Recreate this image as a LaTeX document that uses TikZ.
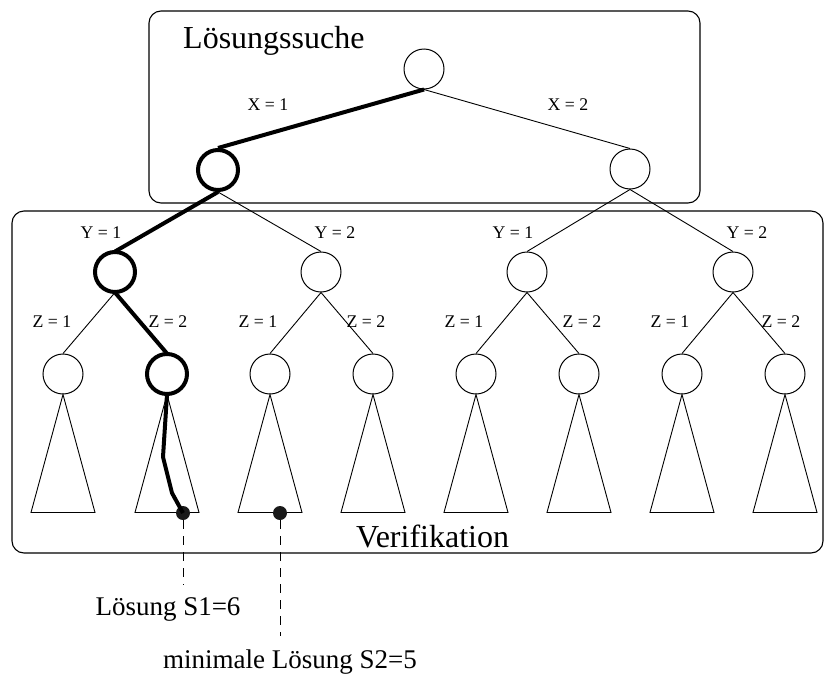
\documentclass[tikz,border=0pt]{standalone}
\usepackage{fontspec}
\setmainfont{Liberation Serif}
\begin{document}
\begin{tikzpicture}[x=1pt,y=-1pt,
  vnode/.style={circle,draw,minimum size=40pt,inner sep=0pt,line width=1pt,fill=white},
  hot/.style={line width=4pt},
  edge/.style={line width=0.9pt},
  region/.style={draw,line width=1.1pt,rounded corners=12pt},
  title/.style={font=\fontsize{32}{36}\selectfont,anchor=base west,inner sep=0pt},
  val/.style={font=\fontsize{17.8}{20}\selectfont,inner sep=0pt},
  note/.style={font=\fontsize{27}{31}\selectfont,anchor=base,inner sep=0pt},
  dot/.style={circle,fill=black!90,minimum size=14pt,inner sep=0pt},
  leader/.style={line width=0.9pt,dash pattern=on 9pt off 7pt}
]
\useasboundingbox (0,0) rectangle (825,675);

% the two phases
\draw[region] (149,11) rectangle (700,203);
\draw[region] (12,211) rectangle (823,553);
\node[title] at (183,48) {Lösungssuche};
\node[title] at (356,547) {Verifikation};

% search tree
\node[vnode] (r) at (424,69) {};
\node[vnode,hot] (a) at (218,170) {};
\node[vnode] (b) at (630,169) {};
\foreach \n/\x in {y1/115,y2/321,y3/527,y4/733}
  \node[vnode] (\n) at (\x,272) {};
\node[vnode,hot] at (y1) {};
\foreach \n/\x in {z1/63,z2/167,z3/270,z4/373,z5/476,z6/579,z7/682,z8/785}
  \node[vnode] (\n) at (\x,374) {};
\node[vnode,hot] at (z2) {};

\draw[hot] (r.south) -- (a.north);
\draw[edge] (r.south) -- (b.north);
\draw[hot] (a.south) -- (y1.north);
\draw[edge] (a.south) -- (y2.north);
\draw[edge] (b.south) -- (y3.north);
\draw[edge] (b.south) -- (y4.north);
\draw[edge] (y1.south) -- (z1.north);
\draw[hot] (y1.south) -- (z2.north);
\draw[edge] (y2.south) -- (z3.north);
\draw[edge] (y2.south) -- (z4.north);
\draw[edge] (y3.south) -- (z5.north);
\draw[edge] (y3.south) -- (z6.north);
\draw[edge] (y4.south) -- (z7.north);
\draw[edge] (y4.south) -- (z8.north);

% subtrees below the last level
\foreach \n in {z1,z2,z3,z4,z5,z6,z7,z8}
  \draw[edge] (\n.south) -- ++(-32,118) -- ++(64,0) -- cycle;

% branch labels
\node[val] at (268,105) {X = 1};
\node[val] at (568,105) {X = 2};
\foreach \x/\t in {101/1,335/2,513/1,747/2}
  \node[val] at (\x,233) {Y = \t};
\foreach \x/\t in {52/1,168/2,258/1,366/2,464/1,582/2,670/1,781/2}
  \node[val] at (\x,322) {Z = \t};

% solutions found in the subtrees
\node[dot] (d1) at (183,513) {};
\node[dot] (d2) at (280,513) {};
\draw[hot,line join=round] (z2.south) -- (163,457) -- (172,493) -- (d1.center);
\coordinate (c1) at (183,585);
\coordinate (c2) at (280,636);
\draw[leader] (d1.south) -- (c1);
\draw[leader] (d2.south) -- (c2);
\node[note] at (168,615) {Lösung S1=6};
\node[note] at (290,668) {minimale Lösung S2=5};
\end{tikzpicture}
\end{document}
